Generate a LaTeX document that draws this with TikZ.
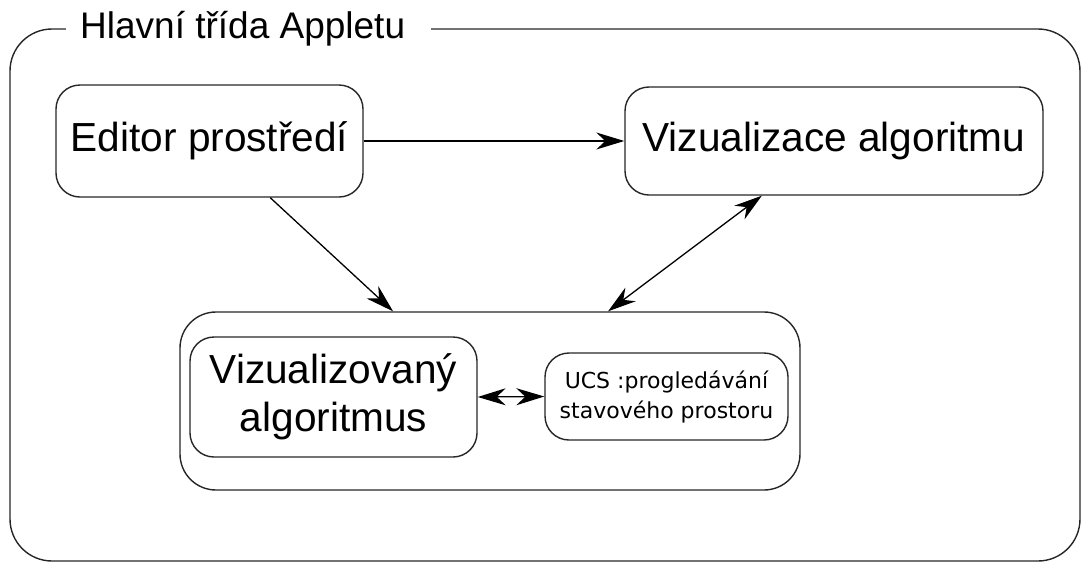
\documentclass[tikz,border=0pt]{standalone}
\usepackage{fontspec}
\setmainfont{Liberation Sans}
\newfontfamily\smallfont{DejaVu Sans}
\usetikzlibrary{arrows.meta,calc}
\begin{document}
\begin{tikzpicture}[x=1pt,y=-1pt,
  box/.style={draw=black!85,line width=1.4pt,rounded corners=24pt,align=center,inner sep=0pt},
  bigtext/.style={font=\fontsize{40.6}{48}\selectfont},
  tip/.style={Stealth[length=28pt,width=17pt,inset=9pt]},
  con/.style={line width=1.3pt,-{Stealth[length=28pt,width=17pt,inset=9pt]}},
  dcon/.style={line width=1.3pt,{Stealth[length=28pt,width=17pt,inset=9pt]}-{Stealth[length=28pt,width=17pt,inset=9pt]}}]
\useasboundingbox (0,0) rectangle (1082,563);
% outer frame
\draw[draw=black!85,line width=1.4pt,rounded corners=42pt] (10,29) rectangle (1080,561);
\fill[white] (66,14) rectangle (431,44);
\node[anchor=west,inner xsep=0pt,inner ysep=4pt,font=\fontsize{37}{44}\selectfont] (title) at (80,29) {Hlavní třída Appletu};
% nodes
\node[box,bigtext,minimum width=307pt,minimum height=112pt] (editor) at (209.5,141) {Editor prostředí};
\node[box,bigtext,minimum width=418pt,minimum height=108pt] (viz) at (834,141) {Vizualizace algoritmu};
\node[box,rounded corners=36pt,minimum width=620pt,minimum height=178pt] (group) at (490,401) {};
\node[box,bigtext,minimum width=287pt,minimum height=120pt] (algo) at (333.5,397) {Vizualizovaný\\algoritmus};
\node[box,font=\smallfont\fontsize{22}{30}\selectfont,minimum width=243pt,minimum height=87pt] (ucs) at (666.5,396.5) {UCS :progledávání\\stavového prostoru};
% connectors
\draw[con] (editor.east) -- (viz.west);
\draw[con] ($(editor.south west)!0.697!(editor.south east)$) -- ($(group.north west)!0.344!(group.north east)$);
\draw[dcon] ($(group.north west)!0.69!(group.north east)$) -- ($(viz.south west)!0.328!(viz.south east)$);
\draw[dcon] (algo.east) -- (ucs.west);
\end{tikzpicture}
\end{document}
